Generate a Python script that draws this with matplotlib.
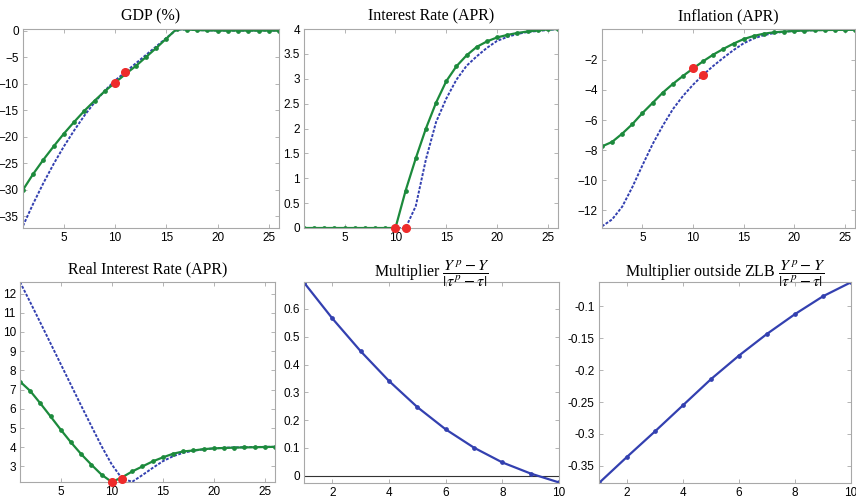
import numpy as np
import matplotlib
matplotlib.use('Agg')
import matplotlib.pyplot as plt

plt.rcParams['font.family'] = 'Liberation Sans'
plt.rcParams['mathtext.fontset'] = 'stix'

# quarters
t = np.arange(1, 27)
t10 = np.arange(1, 11)

# GDP (%)
gdp_zlb = [-30.0, -27.0, -24.3, -21.8, -19.4, -17.2, -15.1, -13.2, -11.4, -9.8,
           -8.2, -6.7, -5.0, -3.3, -1.5, 0.3, 0.2, 0.1, 0.05, 0.0,
           0.0, 0.0, 0.0, 0.0, 0.0, 0.0]
gdp_base = [-36.8, -32.6, -28.7, -25.1, -21.8, -18.8, -16.0, -13.5, -11.3, -9.4,
            -7.8, -6.2, -4.6, -3.0, -1.4, 0.2, 0.2, 0.1, 0.05, 0.0,
            0.0, 0.0, 0.0, 0.0, 0.0, 0.0]

# Interest Rate (APR)
rate_zlb = [0, 0, 0, 0, 0, 0, 0, 0, 0, 0,
            0.75, 1.4, 2.0, 2.52, 2.95, 3.25, 3.47, 3.64, 3.75, 3.83,
            3.88, 3.92, 3.95, 3.97, 3.99, 4.0]
rate_base = [0, 0, 0, 0, 0, 0, 0, 0, 0, 0,
             0, 0.44, 1.38, 2.13, 2.6, 2.98, 3.26, 3.45, 3.62, 3.76,
             3.84, 3.9, 3.94, 3.96, 3.98, 4.0]

# Inflation (APR)
infl_zlb = [-7.75, -7.45, -6.9, -6.27, -5.53, -4.86, -4.18, -3.6, -3.07, -2.57,
            -2.09, -1.65, -1.27, -0.92, -0.62, -0.41, -0.26, -0.17, -0.12, -0.08,
            -0.05, -0.03, -0.02, -0.01, -0.01, 0.0]
infl_base = [-13.06, -12.6, -11.75, -10.45, -9.0, -7.6, -6.38, -5.28, -4.4, -3.65,
             -2.99, -2.4, -1.86, -1.35, -0.9, -0.58, -0.36, -0.22, -0.13, -0.08,
             -0.05, -0.03, -0.02, -0.01, -0.01, 0.0]

# Real Interest Rate (APR)
real_zlb = [7.42, 6.93, 6.28, 5.6, 4.91, 4.25, 3.64, 3.09, 2.57, 2.19,
            2.43, 2.74, 3.0, 3.26, 3.47, 3.66, 3.78, 3.83, 3.9, 3.94,
            3.96, 3.98, 3.99, 4.0, 4.01, 4.02]
real_base = [12.6, 11.55, 10.48, 9.4, 8.32, 7.24, 6.16, 5.1, 4.05, 3.1,
             2.37, 2.2, 2.55, 2.92, 3.27, 3.53, 3.71, 3.82, 3.89, 3.94,
             3.97, 3.99, 4.0, 4.01, 4.02, 4.02]

# multipliers
mult = [0.695, 0.566, 0.448, 0.341, 0.247, 0.167, 0.101, 0.048, 0.008, -0.024]
mult_out = [-0.377, -0.336, -0.296, -0.255, -0.214, -0.177, -0.143, -0.112, -0.084, -0.062]

# exit dates from the ZLB (red dots): with / without
red_x = [10, 11]

green = '#1c8a3c'
blue = '#3340b0'
red = '#ee2b2b'

fig = plt.figure(figsize=(8.56, 4.99), dpi=100)
W, H = 856, 499


def make_ax(l, r, top, bot):
    ax = fig.add_axes([l / W, 1 - bot / H, (r - l) / W, (bot - top) / H])
    for s in ax.spines.values():
        s.set_color('#a8a8a8')
        s.set_linewidth(0.8)
    ax.tick_params(direction='in', length=3, width=0.6, color='#a8a8a8',
                   labelsize=8.5, top=True, right=True, pad=3)
    return ax


def title(ax, txt):
    ax.set_title(txt, family='Liberation Serif', fontsize=11.5, pad=6)


def irf(ax, zlb, base):
    ax.plot(t, base, color=blue, lw=1.4, ls=(0, (1.5, 0.8)))
    ax.plot(t, zlb, color=green, lw=1.6, marker='o', ms=2.4)
    ax.plot(red_x[0], zlb[red_x[0] - 1], 'o', color=red, ms=5.5, zorder=5, clip_on=False)
    ax.plot(red_x[1], base[red_x[1] - 1], 'o', color=red, ms=5.5, zorder=5, clip_on=False)
    ax.set_xlim(1, 26)
    ax.set_xticks([5, 10, 15, 20, 25])


ax1 = make_ax(23, 279, 29, 228)
irf(ax1, gdp_zlb, gdp_base)
ax1.set_ylim(-37.2, 0.3)
ax1.set_yticks([-35, -30, -25, -20, -15, -10, -5, 0])
title(ax1, 'GDP (%)')

ax2 = make_ax(304, 558, 29, 228)
irf(ax2, rate_zlb, rate_base)
ax2.set_ylim(0, 4)
ax2.set_yticks([0, 0.5, 1, 1.5, 2, 2.5, 3, 3.5, 4])
ax2.set_yticklabels(['0', '0.5', '1', '1.5', '2', '2.5', '3', '3.5', '4'])
title(ax2, 'Interest Rate (APR)')

ax3 = make_ax(602, 855, 29, 228)
irf(ax3, infl_zlb, infl_base)
ax3.set_ylim(-13.17, 0.05)
ax3.set_yticks([-12, -10, -8, -6, -4, -2])
title(ax3, 'Inflation (APR)')

ax4 = make_ax(20, 275, 282, 482)
irf(ax4, real_zlb, real_base)
ax4.set_ylim(2.19, 12.6)
ax4.set_yticks(range(3, 13))
title(ax4, 'Real Interest Rate (APR)')

frac = r'$\dfrac{Y^{\,p} - Y}{|\tau^{\,p} - \tau|}$'

ax5 = make_ax(304, 559, 282, 483)
ax5.axhline(0, color='#333333', lw=0.8)
ax5.plot(t10, mult, color=blue, lw=1.6, marker='o', ms=2.4)
ax5.set_xlim(1, 10)
ax5.set_ylim(-0.026, 0.697)
ax5.set_xticks([2, 4, 6, 8, 10])
ax5.set_yticks([0, 0.1, 0.2, 0.3, 0.4, 0.5, 0.6])
ax5.set_yticklabels(['0', '0.1', '0.2', '0.3', '0.4', '0.5', '0.6'])
ax5.set_title('Multiplier ' + frac, family='Liberation Serif', fontsize=11.5, pad=3)

ax6 = make_ax(599, 851, 282, 483)
ax6.plot(t10, mult_out, color=blue, lw=1.6, marker='o', ms=2.4)
ax6.set_xlim(1, 10)
ax6.set_ylim(-0.377, -0.0616)
ax6.set_xticks([2, 4, 6, 8, 10])
ax6.set_yticks([-0.35, -0.3, -0.25, -0.2, -0.15, -0.1])
ax6.set_yticklabels(['-0.35', '-0.3', '-0.25', '-0.2', '-0.15', '-0.1'])
ax6.set_title('Multiplier outside ZLB ' + frac, family='Liberation Serif', fontsize=11.5, pad=3)

fig.savefig('out.png', dpi=100)
